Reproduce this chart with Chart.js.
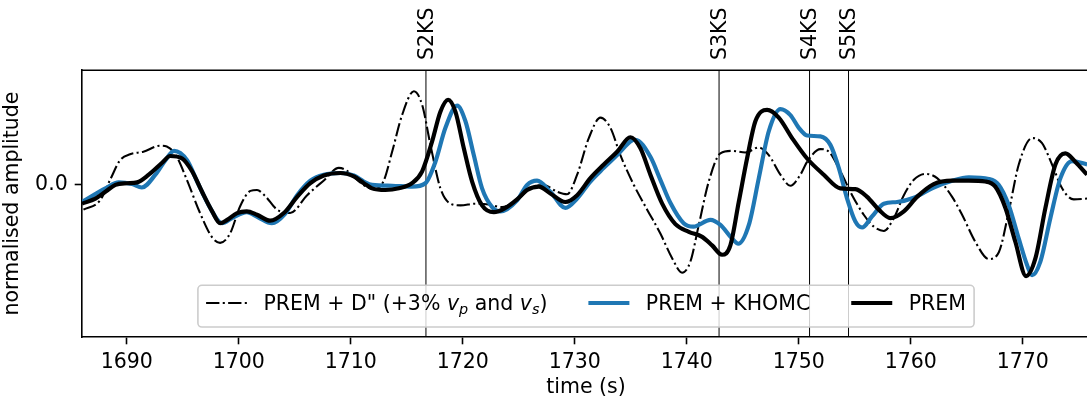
<!DOCTYPE html>
<html><head><meta charset="utf-8">
<script src="https://cdn.jsdelivr.net/npm/chart.js@4.4.1/dist/chart.umd.min.js"></script>
<style>
html,body{margin:0;padding:0;background:#fff;overflow:hidden;width:1087px;height:399px;}
#wrap{position:relative;width:1087px;height:399px;overflow:hidden;}
canvas{display:block;}
</style></head><body>
<div id="wrap"><canvas id="c" width="1100" height="399" style="width:1100px;height:399px"></canvas></div>
<script>
const FONT = '"DejaVu Sans", sans-serif';
const FS = 20.5;

// PREM (black)
const timePREM = [1686.0,1687.2,1688.09,1688.98,1690.0,1690.92,1691.96,1693.15,1693.87,1694.94,1695.83,1696.72,1697.62,1698.33,1698.96,1699.85,1700.71,1701.63,1702.79,1704.02,1705.21,1706.39,1707.59,1709.07,1710.27,1711.16,1711.9,1713.09,1714.29,1715.47,1716.37,1717.26,1718.0,1718.69,1719.34,1720.09,1720.83,1721.72,1722.77,1723.8,1724.85,1725.74,1726.79,1727.82,1729.16,1730.21,1731.39,1732.59,1733.78,1734.96,1735.86,1736.75,1737.8,1738.98,1740.18,1741.37,1742.26,1743.15,1743.89,1744.64,1745.38,1746.13,1747.17,1748.21,1749.4,1750.74,1752.23,1753.71,1755.05,1756.1,1757.14,1758.18,1759.38,1760.56,1762.05,1763.69,1765.18,1766.66,1767.55,1768.45,1769.34,1770.29,1771.13,1772.02,1772.91,1773.8,1774.7,1775.74];
const ampPREM = [-0.22,-0.16,-0.08,0,0.02,0.03,0.12,0.26,0.34,0.31,0.16,-0.08,-0.31,-0.45,-0.41,-0.33,-0.31,-0.35,-0.42,-0.33,-0.14,0.02,0.11,0.14,0.10,0.02,-0.04,-0.06,-0.04,0.02,0.16,0.51,0.86,1.0,0.86,0.43,0.04,-0.24,-0.32,-0.27,-0.17,-0.06,-0.02,-0.10,-0.20,-0.12,0.08,0.24,0.39,0.56,0.43,0.12,-0.22,-0.46,-0.55,-0.61,-0.71,-0.82,-0.71,-0.20,0.31,0.75,0.88,0.79,0.55,0.31,0.12,-0.04,-0.05,-0.14,-0.29,-0.39,-0.31,-0.14,0.01,0.05,0.05,0.04,-0.02,-0.27,-0.67,-1.07,-0.86,-0.27,0.24,0.37,0.27,0.12];

// PREM + KHOMC (blue)
const timeKHOMC = [1686.01,1688.09,1689.29,1690.47,1691.34,1692.55,1693.45,1694.22,1695.38,1696.28,1697.32,1698.51,1699.4,1700.71,1701.72,1702.95,1704.13,1705.21,1706.39,1707.59,1709.07,1710.27,1711.16,1711.9,1713.69,1715.47,1716.66,1717.55,1718.45,1719.49,1720.23,1720.98,1721.72,1722.62,1723.36,1724.85,1725.74,1726.63,1727.82,1729.16,1730.21,1731.39,1732.59,1733.78,1734.96,1735.41,1736.75,1737.64,1738.53,1739.72,1740.6,1742.11,1743.0,1744.04,1744.6,1745.54,1746.43,1747.32,1748.36,1749.25,1750.0,1750.74,1751.93,1752.82,1753.57,1754.31,1755.05,1755.65,1756.54,1757.59,1758.78,1760.27,1762.05,1763.69,1765.18,1766.96,1767.86,1768.75,1769.64,1770.38,1770.83,1771.57,1772.46,1773.36,1774.4,1775.74];
const ampKHOMC = [-0.20,-0.04,0.03,0.01,-0.03,0.12,0.29,0.40,0.29,0.04,-0.24,-0.45,-0.39,-0.32,-0.38,-0.45,-0.34,-0.12,0.05,0.12,0.14,0.11,0.04,0,-0.01,-0.02,0.02,0.27,0.67,0.93,0.75,0.35,-0.04,-0.26,-0.31,-0.18,0,0.05,-0.08,-0.27,-0.16,0.04,0.20,0.35,0.51,0.53,0.33,0.06,-0.21,-0.45,-0.49,-0.41,-0.47,-0.63,-0.69,-0.47,0.08,0.63,0.89,0.82,0.67,0.58,0.57,0.47,0.20,-0.16,-0.43,-0.50,-0.37,-0.22,-0.20,-0.15,-0.03,0.05,0.09,0.07,0,-0.24,-0.63,-0.94,-1.06,-0.90,-0.39,0.08,0.28,0.24];

// PREM + D'' (dash-dot)
const timeDpp = [1686.13,1687.62,1688.51,1689.4,1690.29,1691.48,1692.97,1693.57,1694.46,1695.36,1696.54,1697.59,1698.33,1699.22,1700.12,1701.04,1701.63,1702.35,1703.42,1704.58,1706.1,1707.57,1708.93,1709.49,1711.13,1712.02,1712.91,1713.69,1714.58,1715.63,1716.37,1717.11,1718.0,1718.89,1719.79,1721.13,1722.32,1723.51,1724.85,1726.04,1727.23,1728.42,1729.31,1730.21,1731.25,1732.29,1733.18,1734.07,1735.27,1736.46,1737.64,1738.69,1739.58,1740.32,1741.07,1741.96,1743.0,1744.04,1745.23,1746.43,1747.32,1748.36,1749.25,1750.14,1750.74,1751.93,1752.68,1753.71,1754.76,1755.8,1756.7,1757.59,1758.48,1759.38,1760.27,1761.3,1762.35,1763.69,1764.58,1765.77,1766.96,1767.86,1768.75,1769.64,1770.83,1771.72,1772.61,1773.51,1774.55,1775.74];
const ampDpp = [-0.29,-0.18,0.06,0.29,0.36,0.39,0.46,0.45,0.33,0.06,-0.33,-0.61,-0.68,-0.57,-0.25,-0.07,-0.06,-0.13,-0.29,-0.33,-0.12,0.05,0.20,0.18,0,-0.05,0.04,0.39,0.82,1.10,0.94,0.47,-0.04,-0.22,-0.24,-0.22,-0.23,-0.26,-0.18,-0.04,0,-0.08,-0.11,0.12,0.55,0.79,0.67,0.35,0,-0.29,-0.57,-0.86,-1.03,-0.90,-0.47,0.04,0.37,0.40,0.38,0.44,0.35,0.12,-0.01,0.12,0.27,0.42,0.39,0.16,-0.12,-0.35,-0.49,-0.54,-0.39,-0.12,0.06,0.13,0.08,-0.14,-0.35,-0.67,-0.87,-0.79,-0.31,0.24,0.55,0.49,0.24,-0.04,-0.17,-0.16];

// seismic phase arrivals
const phaseNames = ['S2KS','S3KS','S4KS','S5KS'];
const phaseTimes = [1716.71,1742.88,1750.96,1754.44];

const xTickValues = [1690,1700,1710,1720,1730,1740,1750,1760,1770];
const yTickValues = [0];
const xRange = [1686, 1776];
const yRange = [-1.785, 1.349];

const legendLabels = ['PREM + D" (+3% v_p and v_s)', 'PREM + KHOMC', 'PREM'];

function pairs(t, a){ return t.map((v,i)=>({x:v, y:a[i]})); }

Chart.defaults.font.family = FONT;
Chart.defaults.font.size = FS;
Chart.defaults.color = '#000';

const DASH = [13.3, 3.33, 2.08, 3.33];

const deco = {
  id: 'deco',
  beforeDatasetsDraw(chart){
    const {ctx, chartArea:{top,bottom}, scales:{x}} = chart;
    ctx.save();
    ctx.strokeStyle = '#000';
    ctx.lineWidth = 1;
    phaseTimes.forEach(t=>{
      const px = x.getPixelForValue(t);
      ctx.beginPath(); ctx.moveTo(px, top); ctx.lineTo(px, bottom); ctx.stroke();
    });
    ctx.restore();
  },
  afterDraw(chart){
    const {ctx, chartArea:{left,right,top,bottom}, scales:{x}} = chart;
    ctx.save();
    // top spine
    ctx.strokeStyle = '#000'; ctx.lineWidth = 1.6;
    ctx.beginPath(); ctx.moveTo(left, Math.round(top)+0.2); ctx.lineTo(right, Math.round(top)+0.2); ctx.stroke();
    // phase labels
    ctx.fillStyle = '#000';
    ctx.font = FS + 'px ' + FONT;
    ctx.textAlign = 'left'; ctx.textBaseline = 'alphabetic';
    phaseTimes.forEach((t,i)=>{
      const px = x.getPixelForValue(t);
      ctx.save();
      ctx.translate(px + 6.7, top - 10);
      ctx.rotate(-Math.PI/2);
      ctx.fillText(phaseNames[i], 0, 0);
      ctx.restore();
    });
    // legend
    const N = FS + 'px ' + FONT, I = 'italic ' + FS + 'px ' + FONT, S = 'italic 14.4px ' + FONT;
    const rich = [
      [{t:'PREM + D" (+3% ', f:N, dy:0},{t:'v', f:I, dy:0},{t:'p', f:S, dy:4},{t:' and ', f:N, dy:0},{t:'v', f:I, dy:0},{t:'s', f:S, dy:4},{t:')', f:N, dy:0}],
      [{t:legendLabels[1], f:N, dy:0}],
      [{t:legendLabels[2], f:N, dy:0}]
    ];
    const widths = rich.map(segs=>segs.reduce((w,s)=>{ctx.font=s.f; return w+ctx.measureText(s.t).width;},0));
    const pad = 0.4*FS, hl = 2*FS, htp = 0.8*FS, cs = 2*FS;
    let total = pad*2 + widths.reduce((a,w)=>a+hl+htp+w,0) + cs*(widths.length-1);
    const boxH = 41.7;
    const bx = (left+right)/2 - total/2;
    const by = bottom - 10 - boxH;
    ctx.beginPath();
    if (ctx.roundRect) ctx.roundRect(bx, by, total, boxH, 4); else ctx.rect(bx,by,total,boxH);
    ctx.fillStyle = 'rgba(255,255,255,0.8)'; ctx.fill();
    ctx.strokeStyle = '#cccccc'; ctx.lineWidth = 1.6; ctx.stroke();
    const ds = chart.data.datasets;
    let cx = bx + pad;
    const hy = by + 17.7, baseY = by + 25;
    for (let i=0;i<rich.length;i++){
      const d = ds[i];
      ctx.save();
      ctx.strokeStyle = d.borderColor; ctx.lineWidth = d.borderWidth;
      ctx.setLineDash(d.borderDash || []);
      ctx.lineCap = 'butt';
      ctx.beginPath(); ctx.moveTo(cx, hy); ctx.lineTo(cx+hl, hy); ctx.stroke();
      ctx.restore();
      let tx = cx + hl + htp;
      ctx.fillStyle = '#000'; ctx.textBaseline = 'alphabetic'; ctx.textAlign = 'left';
      rich[i].forEach(s=>{ ctx.font = s.f; ctx.fillText(s.t, tx, baseY + s.dy); tx += ctx.measureText(s.t).width; });
      cx += hl + htp + widths[i] + cs;
    }
    ctx.restore();
  }
};

new Chart(document.getElementById('c'), {
  type: 'line',
  data: {
    datasets: [
      {label: legendLabels[0], data: pairs(timeDpp, ampDpp), borderColor:'#000', borderWidth:2.08, borderDash:DASH, pointRadius:0, fill:false, cubicInterpolationMode:'monotone', order:3},
      {label: legendLabels[1], data: pairs(timeKHOMC, ampKHOMC), borderColor:'#1f77b4', borderWidth:4.17, pointRadius:0, fill:false, cubicInterpolationMode:'monotone', order:2},
      {label: legendLabels[2], data: pairs(timePREM, ampPREM), borderColor:'#000', borderWidth:4.17, pointRadius:0, fill:false, cubicInterpolationMode:'monotone', order:1}
    ]
  },
  options: {
    responsive:false, devicePixelRatio:1, animation:false, events:[],
    layout:{padding:{top:70, right:10, left:0, bottom:0}},
    plugins:{legend:{display:false}, tooltip:{enabled:false}},
    scales:{
      x:{type:'linear', min:xRange[0], max:xRange[1],
        afterBuildTicks(s){ s.ticks = xTickValues.map(v=>({value:v})); },
        afterFit(s){ s.height = 62; },
        ticks:{color:'#000', font:{size:FS}, padding:6, maxRotation:0, callback:v=>String(v)},
        grid:{drawOnChartArea:false, drawTicks:true, tickLength:7.3, tickWidth:1.6, tickColor:'#000'},
        border:{display:true, color:'#000', width:1.6},
        title:{display:true, text:'time (s)', color:'#000', font:{size:FS}, padding:{top:0,bottom:-1}}
      },
      y:{type:'linear', min:yRange[0], max:yRange[1],
        afterBuildTicks(s){ s.ticks = yTickValues.map(v=>({value:v})); },
        afterFit(s){ s.width = 82; },
        ticks:{color:'#000', font:{size:FS}, padding:7, callback:v=>Number(v).toFixed(1)},
        grid:{drawOnChartArea:false, drawTicks:true, tickLength:7.3, tickWidth:1.6, tickColor:'#000'},
        border:{display:true, color:'#000', width:1.6},
        title:{display:true, text:'normalised amplitude', color:'#000', font:{size:FS}, padding:{top:0,bottom:5}}
      }
    }
  },
  plugins:[deco]
});
</script>
</body></html>
